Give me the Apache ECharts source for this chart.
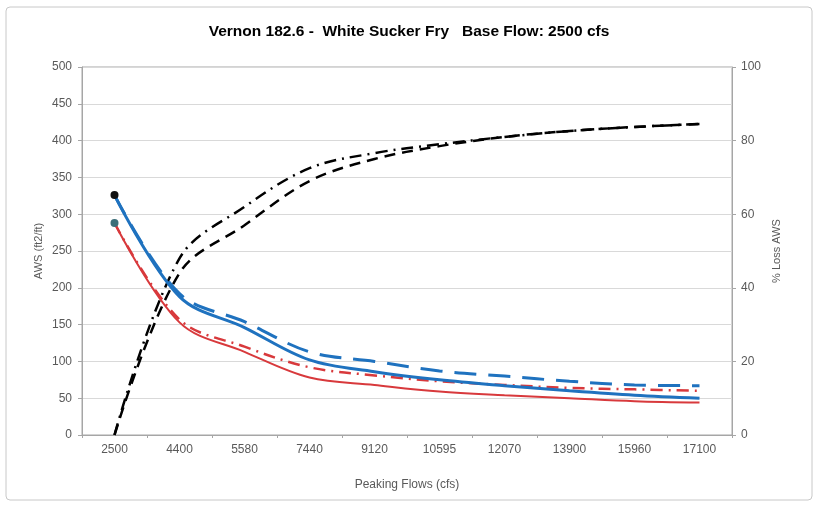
<!DOCTYPE html>
<html>
<head>
	<meta charset="utf-8">
	<title>Vernon 182.6</title>
	<script src="https://cdn.jsdelivr.net/npm/echarts@6/dist/echarts.min.js"></script>
	<style>
		html, body { margin: 0; padding: 0; background: #fff; }
	</style>
</head>
<body>
	<div id="echart" style="width: 818px; height: 508px"></div>
	<script>
		// peaking flows (cfs)
		let flows = ['2500', '4400', '5580', '7440', '9120', '10595', '12070', '13900', '15960', '17100'];
		// AWS (ft2/ft), left axis
		let awsBlue = [326, 188, 146, 102, 86, 75, 67, 60, 54, 50];
		let awsBlueDash = [326, 192, 154, 113, 100, 87, 80, 73, 68, 67];
		let awsRed = [288, 153, 113, 78, 68, 59, 54, 50, 46, 44];
		let awsRedDash = [288, 157, 120, 92, 81, 73, 68, 64, 62, 60];
		// % loss AWS, right axis
		let lossDash = [0, 44, 57, 69, 75, 78.5, 81, 82.6, 83.7, 84.5];
		let lossDashDot = [0, 48, 62, 72.5, 76.6, 79, 81, 82.6, 83.7, 84.5];

		let mychart = echarts.init(document.getElementById('echart'));
		let txt = '#595959';
		let font = 'Liberation Sans';

		function firstDot(arr, color) {
			return arr.map(function (v, i) {
				if (i > 0) return v;
				return { value: v, symbol: 'circle', symbolSize: 8, itemStyle: { color: color } };
			});
		}

		let option = {
			animation: false,
			backgroundColor: '#fff',
			textStyle: { fontFamily: font },
			title: {
				text: 'Vernon 182.6 -  White Sucker Fry   Base Flow: 2500 cfs',
				left: 'center',
				top: 19,
				textStyle: { fontSize: 15.5, fontWeight: 'bold', color: '#000', fontFamily: font }
			},
			graphic: [{
				type: 'rect',
				shape: { x: 6, y: 7, width: 806, height: 493, r: 4 },
				style: { fill: 'none', stroke: '#c8c8c8', lineWidth: 1 }
			}],
			grid: {
				left: 82, right: 86, top: 67, bottom: 73,
				show: true, borderColor: '#a6a6a6', borderWidth: 1
			},
			xAxis: {
				type: 'category',
				data: flows,
				boundaryGap: true,
				name: 'Peaking Flows (cfs)',
				nameLocation: 'middle',
				nameGap: 44,
				nameTextStyle: { color: txt, fontSize: 12 },
				axisLine: { lineStyle: { color: '#a6a6a6' } },
				axisTick: { show: true, length: 3, lineStyle: { color: '#a6a6a6' } },
				axisLabel: { color: txt, fontSize: 12, margin: 9 },
				splitLine: { show: false }
			},
			yAxis: [{
				type: 'value',
				min: 0, max: 500, interval: 50,
				name: 'AWS (ft2/ft)',
				nameLocation: 'middle',
				nameMoveOverlap: false,
				nameGap: 38,
				nameTextStyle: { color: txt, fontSize: 11 },
				axisLine: { show: true, lineStyle: { color: '#a6a6a6' } },
				axisTick: { show: true, length: 4, lineStyle: { color: '#a6a6a6' } },
				axisLabel: { color: txt, fontSize: 12, margin: 10 },
				splitLine: { lineStyle: { color: '#d9d9d9' } }
			}, {
				type: 'value',
				min: 0, max: 100, interval: 20,
				name: '% Loss AWS',
				nameLocation: 'middle',
				nameRotate: 90,
				nameGap: 39,
				nameTextStyle: { color: txt, fontSize: 11 },
				position: 'right',
				axisLine: { show: true, lineStyle: { color: '#a6a6a6' } },
				axisTick: { show: true, length: 4, lineStyle: { color: '#a6a6a6' } },
				axisLabel: { color: txt, fontSize: 12, margin: 9 },
				splitLine: { show: false }
			}],
			series: [{
				name: 'loss dash',
				type: 'line', yAxisIndex: 1, smooth: 0.35, symbol: 'none',
				lineStyle: { color: '#000', width: 2.5, type: [11, 7] },
				data: lossDash
			}, {
				name: 'loss dashdot',
				type: 'line', yAxisIndex: 1, smooth: 0.35, symbol: 'none',
				lineStyle: { color: '#000', width: 2.5, type: [12, 6, 2, 6] },
				data: lossDashDot
			}, {
				name: 'blue dash',
				type: 'line', smooth: 0.35, symbol: 'none',
				lineStyle: { color: '#1f72bf', width: 3, type: [22, 12] },
				data: awsBlueDash
			}, {
				name: 'red dashdot',
				type: 'line', smooth: 0.35, symbol: 'none',
				lineStyle: { color: '#d8393c', width: 2.5, type: [12, 6, 2, 6] },
				data: awsRedDash
			}, {
				name: 'red',
				type: 'line', smooth: 0.35, symbol: 'none',
				lineStyle: { color: '#d8393c', width: 2 },
				data: firstDot(awsRed, '#3c6e78')
			}, {
				name: 'blue',
				type: 'line', smooth: 0.35, symbol: 'none',
				lineStyle: { color: '#1f72bf', width: 3 },
				data: firstDot(awsBlue, '#111')
			}]
		};
		mychart.setOption(option);
	</script>
</body>
</html>
